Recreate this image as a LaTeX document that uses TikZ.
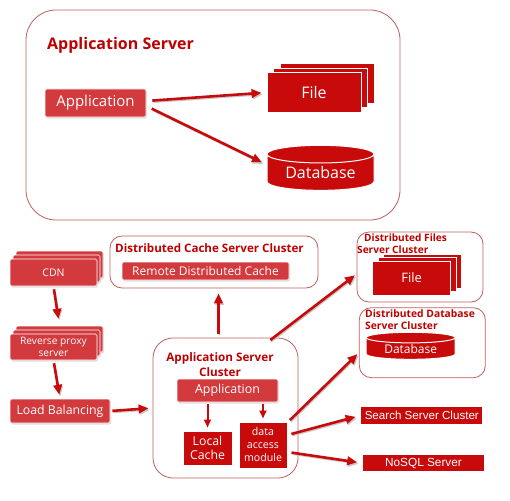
\documentclass[tikz,border=0pt]{standalone}
\usepackage{fontspec}
\setmainfont{Open Sans}
\newfontfamily\arialfont{Liberation Sans}
\usetikzlibrary{shapes.geometric,arrows.meta,shadows}
\definecolor{dkred}{RGB}{200,10,10}
\definecolor{ltred}{RGB}{210,58,62}
\definecolor{edgered}{RGB}{190,95,95}
\definecolor{titlered}{RGB}{190,0,0}

\begin{document}
\begin{tikzpicture}[x=1pt,y=-1pt,
	cluster/.style={draw=edgered,line width=0.8pt,rounded corners=#1,fill=white,inner sep=0pt},
	lightbox/.style={fill=ltred,draw=white,line width=0.6pt,text=white,inner sep=0pt,rounded corners=1.5pt,drop shadow={opacity=0.25,shadow xshift=1.2pt,shadow yshift=-1.5pt}},
	darkbox/.style={fill=dkred,draw=white,line width=1pt,text=white,inner sep=0pt},
	dbase/.style={shape=cylinder,shape border rotate=90,aspect=#1,cylinder uses custom fill,cylinder body fill=dkred,cylinder end fill=dkred,draw=white,line width=1pt,text=white,inner sep=0pt},
	title/.style={text=titlered,inner sep=0pt},
	bigarrow/.style={draw=dkred,line width=2.6pt,-{Triangle[length=10pt,width=8.5pt]},preaction={draw=black!22,line width=1.6pt,transform canvas={xshift=1pt,yshift=-1.6pt}}},
	smallarrow/.style={draw=dkred,line width=2pt,-{Triangle[length=8pt,width=7pt]}}]
	\useasboundingbox (0,0) rectangle (510,500);
	
	\node[cluster=30pt,minimum width=374pt,minimum height=210pt] (appsrv) at (213,115) {};
	\node[title,anchor=west,font=\bfseries\fontsize{16}{18}\selectfont] (appsrvtitle) at (47,45) {Application Server};
	\node[lightbox,minimum width=101pt,minimum height=28pt,font=\fontsize{15}{17}\selectfont] (app) at (95.5,103) {Application};
	\node[darkbox,minimum width=94pt,minimum height=39pt] (filec) at (327,83.5) {};
	\node[darkbox,minimum width=94pt,minimum height=39pt] (fileb) at (320.5,88) {};
	\node[darkbox,minimum width=94pt,minimum height=39pt,font=\fontsize{16}{18}\selectfont] (filea) at (314,92.5) {File};
	\node[dbase=0.25,minimum width=107pt,minimum height=45pt,font=\fontsize{16}{18}\selectfont] (db) at (320.5,172.5) {\raisebox{-7pt}{Database}};
	\draw[bigarrow,shorten <=6pt,shorten >=5pt] ([yshift=2pt]app.east) -- (filea.west);
	\draw[bigarrow,shorten <=6pt,shorten >=5pt] ([yshift=-3pt]app.east) -- ([yshift=8pt]db.west);
	
	\node[lightbox,minimum width=87pt,minimum height=27pt] (cdnc) at (59.5,264.5) {};
	\node[lightbox,minimum width=87pt,minimum height=27pt] (cdnb) at (56.5,268.5) {};
	\node[lightbox,minimum width=87pt,minimum height=27pt,font=\fontsize{10.5}{12}\selectfont] (cdna) at (53.5,272.5) {CDN};
	\node[lightbox,minimum width=87pt,minimum height=26pt] (proxyc) at (59.5,339) {};
	\node[lightbox,minimum width=87pt,minimum height=26pt] (proxyb) at (56.5,343) {};
	\node[lightbox,minimum width=87pt,minimum height=26pt,align=center,font=\fontsize{10.2}{11.5}\selectfont] (proxya) at (53.5,347) {Reverse proxy\\server};
	\node[lightbox,minimum width=100pt,minimum height=24pt,font=\fontsize{12.3}{14}\selectfont] (lb) at (60,411) {Load Balancing};
	\draw[bigarrow,shorten <=3pt,shorten >=7pt] (cdna.south) -- (proxyc.north);
	\draw[bigarrow,shorten <=3pt,shorten >=4pt] (proxya.south) -- (lb.north);
	
	\node[cluster=12pt,minimum width=208pt,minimum height=52pt] (cache) at (214,262) {};
	\node[title,anchor=west,font=\bfseries\fontsize{11.6}{13}\selectfont] (cachetitle) at (115,248) {Distributed Cache Server Cluster};
	\node[lightbox,minimum width=167pt,minimum height=18pt,font=\fontsize{12}{14}\selectfont] (remote) at (205.5,271) {Remote Distributed Cache};
	
	\node[cluster=20pt,minimum width=145pt,minimum height=140pt] (appcl) at (225.5,408) {};
	\node[title,align=center,font=\bfseries\fontsize{11.7}{15}\selectfont] (appcltitle) at (220,365) {Application Server\\Cluster};
	\node[lightbox,minimum width=101pt,minimum height=23pt,font=\fontsize{12.4}{14}\selectfont] (appin) at (227.5,390.5) {Application};
	\node[darkbox,minimum width=49pt,minimum height=34pt,align=center,font=\fontsize{12.3}{13.5}\selectfont] (local) at (207.5,448) {Local\\Cache};
	\node[darkbox,minimum width=48pt,minimum height=46pt,align=center,font=\fontsize{10.6}{13}\selectfont] (dam) at (263,445) {data\\access\\module};
	\draw[smallarrow,shorten <=2pt,shorten >=3pt] (appin.south -| local.north) -- (local.north);
	\draw[smallarrow,shorten <=2pt,shorten >=3pt] (appin.south -| dam.north) -- (dam.north);
	\draw[bigarrow,shorten <=2pt,shorten >=4pt] (lb.east) -- (appcl.west);
	\draw[bigarrow,shorten <=4pt,shorten >=5pt] ([xshift=-7pt]appcl.north) -- ([xshift=-7pt]appcl.north |- cache.south);
	
	\node[cluster=12pt,minimum width=126pt,minimum height=70pt] (files) at (420,267) {};
	\node[title,anchor=north west,align=left,font=\bfseries\fontsize{10.1}{12}\selectfont] (filestitle) at (357,234) {\hspace{7pt}Distributed Files\\Server Cluster};
	\node[darkbox,minimum width=78pt,minimum height=34pt] (sfilec) at (422.7,271) {};
	\node[darkbox,minimum width=78pt,minimum height=34pt] (sfileb) at (417.2,274.5) {};
	\node[darkbox,minimum width=78pt,minimum height=34pt,font=\fontsize{13}{15}\selectfont] (sfilea) at (411.7,278) {File};
	\node[cluster=12pt,minimum width=126pt,minimum height=70pt] (dbcl) at (422.3,342.7) {};
	\node[title,anchor=north west,align=left,font=\bfseries\fontsize{10.3}{12}\selectfont] (dbcltitle) at (365,309) {Distributed Database\\Server Cluster};
	\node[dbase=0.2,minimum width=89pt,minimum height=27pt,font=\fontsize{12}{14}\selectfont] (sdb) at (410.7,348.7) {\raisebox{-4pt}{Database}};
	\node[darkbox,minimum width=121.7pt,minimum height=17.7pt,font=\arialfont\fontsize{11.6}{13}\selectfont] (search) at (421.8,415.5) {Search Server Cluster};
	\node[darkbox,minimum width=121.7pt,minimum height=17.3pt,font=\arialfont\fontsize{11.8}{13}\selectfont] (nosql) at (423.5,463) {NoSQL Server};
	
	\draw[bigarrow,shorten <=-4pt,shorten >=2pt] ([xshift=48pt]appcl.north) -- ([yshift=-7pt]files.west);
	\draw[bigarrow,shorten <=2pt,shorten >=2pt] ([xshift=1pt]dam.north east) -- ([yshift=-10pt]dbcl.west);
	\draw[bigarrow,shorten <=4pt,shorten >=5pt] ([yshift=10pt]dam.east) -- (search.west);
	\draw[bigarrow,shorten <=4pt,shorten >=5pt] ([yshift=-7pt]dam.east) -- (nosql.west);
\end{tikzpicture}
\end{document}
